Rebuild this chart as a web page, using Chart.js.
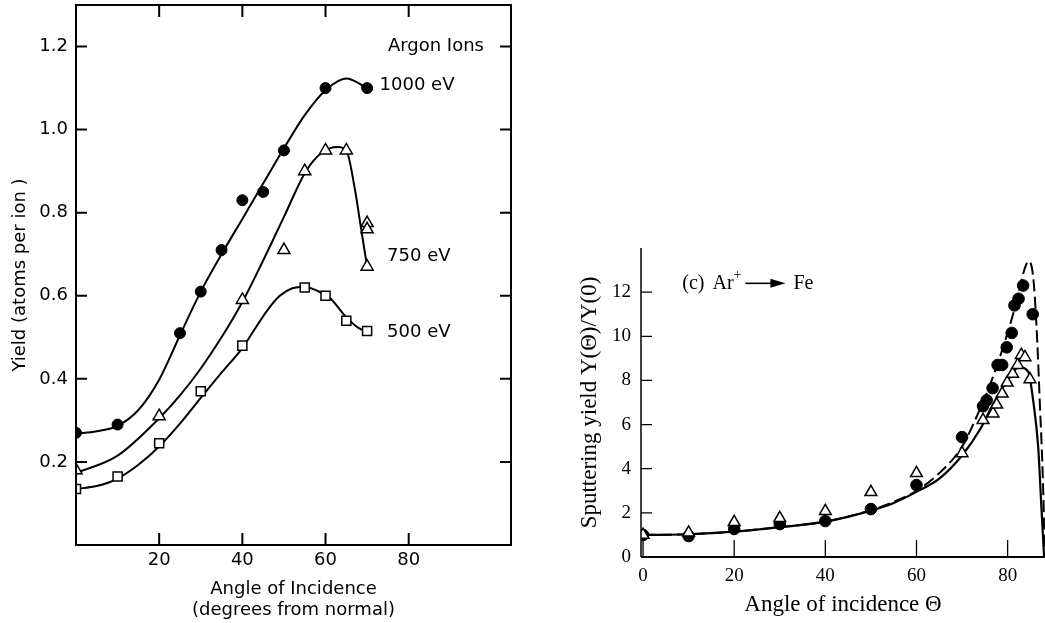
<!DOCTYPE html>
<html>
<head>
<meta charset="utf-8">
<script src="https://cdn.jsdelivr.net/npm/chart.js@4.4.0/dist/chart.umd.min.js"></script>
<style>
  html, body { margin: 0; padding: 0; background: #fff; }
  #wrap { position: relative; width: 1045px; height: 623px; overflow: hidden; }
  #left { position: absolute; left: 0; top: 0; width: 520px; height: 623px; }
  #right { position: absolute; left: 560px; top: 0; width: 485px; height: 623px; }
</style>
</head>
<body>
<div id="wrap">
  <canvas id="left" width="520" height="623"></canvas>
  <canvas id="right" width="485" height="623"></canvas>
</div>
<script>
// ---- left panel: yield vs angle, argon ions ----
const angles1000 = [0, 10, 25, 30, 35, 40, 45, 50, 60, 70];
const yield1000  = [0.27, 0.29, 0.51, 0.61, 0.71, 0.83, 0.85, 0.95, 1.10, 1.10];
const angles750  = [0, 20, 40, 50, 55, 60, 65, 70, 70, 70];
const yield750   = [0.18, 0.31, 0.59, 0.71, 0.90, 0.95, 0.95, 0.775, 0.76, 0.67];
const angles500  = [0, 10, 20, 30, 40, 55, 60, 65, 70];
const yield500   = [0.135, 0.165, 0.245, 0.37, 0.48, 0.62, 0.60, 0.54, 0.515];

// hand drawn fits through the points
const fitAngles1000 = [0, 5, 10, 15, 20, 25, 30, 35, 40, 45, 50, 55, 60, 65, 70];
const fitYield1000  = [0.268, 0.274, 0.287, 0.325, 0.398, 0.505, 0.61, 0.70, 0.785, 0.87, 0.955, 1.035, 1.095, 1.123, 1.10];
const fitAngles750  = [0, 10, 20, 25, 30, 35, 40, 45, 50, 55, 58, 61, 63, 65, 67, 68.5, 70];
const fitYield750   = [0.173, 0.215, 0.305, 0.36, 0.425, 0.50, 0.585, 0.685, 0.79, 0.895, 0.935, 0.955, 0.958, 0.95, 0.86, 0.765, 0.67];
const fitAngles500  = [0, 5, 10, 15, 20, 25, 30, 35, 40, 43, 46, 49, 52, 55, 58, 61, 65, 68, 70];
const fitYield500   = [0.135, 0.142, 0.16, 0.193, 0.237, 0.292, 0.354, 0.415, 0.474, 0.52, 0.565, 0.60, 0.618, 0.622, 0.612, 0.595, 0.548, 0.522, 0.513];

const leftXTicks = [20, 40, 60, 80];
const leftYTicks = [0.2, 0.4, 0.6, 0.8, 1.0, 1.2];

// ---- right panel: normalised sputtering yield, Ar+ -> Fe ----
const anglesCircle = [0, 10, 20, 30, 40, 50, 60, 70, 74.6, 75.4, 76.7, 77.8, 78.8, 79.8, 80.9, 81.5, 82.4, 83.4, 85.5];
const ratioCircle  = [1.0, 0.95, 1.27, 1.49, 1.63, 2.17, 3.26, 5.43, 6.83, 7.1, 7.65, 8.7, 8.7, 9.5, 10.15, 11.4, 11.7, 12.3, 11.0];
const anglesTriangle = [0, 10, 20, 30, 40, 50, 60, 70, 74.6, 76.8, 77.6, 78.8, 79.9, 81.1, 82.2, 83.0, 83.8, 84.9];
const ratioTriangle  = [1.0, 1.1, 1.58, 1.76, 2.08, 2.94, 3.8, 4.7, 6.2, 6.5, 6.9, 7.4, 7.9, 8.3, 8.7, 9.15, 9.05, 8.05];

const fitAnglesSolid = [0, 10, 20, 30, 40, 50, 55, 60, 65, 70, 74, 77, 80, 82.5, 84.5, 85.6, 86.7, 87.4, 88];
const fitRatioSolid  = [1.0, 1.03, 1.15, 1.35, 1.6, 2.1, 2.45, 2.95, 3.55, 4.6, 5.8, 7.0, 8.0, 8.6, 8.4, 7.1, 5.0, 2.3, 0];
const fitAnglesDashed = [0, 10, 20, 30, 40, 50, 55, 60, 65, 70, 73.5, 76.5, 79, 81.6, 83.8, 84.6, 85.6, 86.3, 87.1, 87.9, 88.1];
const fitRatioDashed  = [1.0, 1.03, 1.15, 1.35, 1.6, 2.12, 2.5, 3.0, 3.8, 5.0, 6.5, 8.0, 9.5, 11.3, 13.1, 13.4, 12.7, 10.6, 6.8, 2.3, 0];

const rightXTicks = [0, 20, 40, 60, 80];
const rightYTicks = [0, 2, 4, 6, 8, 10, 12];

function pts(xs, ys) {
    return xs.map(function(x, i) { return { x: x, y: ys[i] }; });
}

// the plot areas are fixed by hand, so drop the label overhang padding
function noPad(s) {
    s.paddingLeft = 0; s.paddingRight = 0; s.paddingTop = 0; s.paddingBottom = 0;
}

const sans = '"DejaVu Sans", sans-serif';
const serif = '"Liberation Serif", "Times New Roman", serif';

// frame, inward ticks and labels for the left panel
const leftInk = {
    id: 'leftInk',
    afterDraw(chart) {
        const ctx = chart.ctx;
        const a = chart.chartArea;
        const sx = chart.scales.x, sy = chart.scales.y;
        ctx.save();
        ctx.strokeStyle = '#000';
        ctx.lineWidth = 2;
        ctx.strokeRect(a.left, a.top, a.right - a.left, a.bottom - a.top);
        ctx.beginPath();
        leftYTicks.forEach(function(v) {
            const py = sy.getPixelForValue(v);
            ctx.moveTo(a.left, py); ctx.lineTo(a.left + 11, py);
            ctx.moveTo(a.right, py); ctx.lineTo(a.right - 11, py);
        });
        leftXTicks.forEach(function(v) {
            const px = sx.getPixelForValue(v);
            ctx.moveTo(px, a.bottom); ctx.lineTo(px, a.bottom - 12);
            ctx.moveTo(px, a.top); ctx.lineTo(px, a.top + 12);
        });
        ctx.stroke();

        ctx.fillStyle = '#000';
        ctx.font = '18px ' + sans;
        ctx.textAlign = 'left';
        ctx.textBaseline = 'middle';
        ctx.fillText('Argon Ions', sx.getPixelForValue(75), sy.getPixelForValue(1.2));
        ctx.fillText('1000 eV', sx.getPixelForValue(73), sy.getPixelForValue(1.106));
        ctx.fillText('750 eV', sx.getPixelForValue(74.8), sy.getPixelForValue(0.694));
        ctx.fillText('500 eV', sx.getPixelForValue(74.8), sy.getPixelForValue(0.511));
        ctx.restore();
    }
};

new Chart(document.getElementById('left'), {
    type: 'scatter',
    data: {
        datasets: [
            { data: pts(angles1000, yield1000), pointStyle: 'circle', pointRadius: 5.5, backgroundColor: '#000', borderColor: '#000', borderWidth: 1 },
            { data: pts(angles750, yield750), pointStyle: 'triangle', pointRadius: 7, backgroundColor: '#fff', borderColor: '#000', borderWidth: 1.5 },
            { data: pts(angles500, yield500), pointStyle: 'rect', pointRadius: 6.4, backgroundColor: '#fff', borderColor: '#000', borderWidth: 1.5 },
            { data: pts(fitAngles1000, fitYield1000), showLine: true, pointRadius: 0, borderColor: '#000', borderWidth: 2, cubicInterpolationMode: 'monotone' },
            { data: pts(fitAngles750, fitYield750), showLine: true, pointRadius: 0, borderColor: '#000', borderWidth: 2, cubicInterpolationMode: 'monotone' },
            { data: pts(fitAngles500, fitYield500), showLine: true, pointRadius: 0, borderColor: '#000', borderWidth: 2, cubicInterpolationMode: 'monotone' }
        ]
    },
    options: {
        responsive: false,
        animation: false,
        events: [],
        layout: { autoPadding: false, padding: { top: 5, right: 9, left: 0, bottom: 0 } },
        plugins: { legend: { display: false }, tooltip: { enabled: false } },
        scales: {
            x: {
                type: 'linear', min: 0, max: 104.6,
                grid: { display: false, drawTicks: false },
                border: { display: false },
                afterBuildTicks: function(s) { s.ticks = leftXTicks.map(function(v) { return { value: v }; }); },
                afterFit: function(s) { s.height = 78; noPad(s); },
                ticks: { padding: 5, color: '#000', font: { family: sans, size: 18 } },
                title: {
                    display: true,
                    text: ['Angle of Incidence', '(degrees from normal)'],
                    color: '#000',
                    font: { family: sans, size: 18, lineHeight: 1.12 },
                    padding: { top: 0, bottom: 3 }
                }
            },
            y: {
                type: 'linear', min: 0, max: 1.3,
                grid: { display: false, drawTicks: false },
                border: { display: false },
                afterBuildTicks: function(s) { s.ticks = leftYTicks.map(function(v) { return { value: v }; }); },
                afterFit: function(s) { s.width = 76; noPad(s); },
                ticks: { padding: 8, color: '#000', font: { family: sans, size: 18 }, callback: function(v) { return v.toFixed(1); } },
                title: {
                    display: true,
                    text: 'Yield (atoms per ion )',
                    color: '#000',
                    font: { family: sans, size: 18 },
                    padding: { top: 10, bottom: 0 }
                }
            }
        }
    },
    plugins: [leftInk]
});

// axes, inward ticks and the "(c) Ar+ -> Fe" note for the right panel
const rightInk = {
    id: 'rightInk',
    afterDraw(chart) {
        const ctx = chart.ctx;
        const a = chart.chartArea;
        const sx = chart.scales.x, sy = chart.scales.y;
        ctx.save();
        ctx.strokeStyle = '#000';
        ctx.lineWidth = 1.5;
        ctx.beginPath();
        ctx.moveTo(a.left, a.top); ctx.lineTo(a.left, a.bottom);
        ctx.stroke();
        ctx.lineWidth = 2;
        ctx.beginPath();
        ctx.moveTo(a.left, a.bottom); ctx.lineTo(a.right, a.bottom);
        ctx.stroke();
        ctx.lineWidth = 1.3;
        ctx.beginPath();
        rightYTicks.forEach(function(v) {
            if (v === 0) return;
            const py = sy.getPixelForValue(v);
            ctx.moveTo(a.left, py); ctx.lineTo(a.left + 11, py);
        });
        rightXTicks.forEach(function(v) {
            const px = sx.getPixelForValue(v);
            ctx.moveTo(px, a.bottom); ctx.lineTo(px, a.bottom - 17);
        });
        ctx.stroke();

        // note
        let x = sx.getPixelForValue(8.6);
        const y = sy.getPixelForValue(12.4);
        ctx.fillStyle = '#000';
        ctx.textAlign = 'left';
        ctx.textBaseline = 'middle';
        ctx.font = '20px ' + serif;
        ctx.fillText('(c)', x, y);
        x += ctx.measureText('(c)').width + 8;
        ctx.fillText('Ar', x, y);
        x += ctx.measureText('Ar').width;
        ctx.font = '14px ' + serif;
        ctx.fillText('+', x, y - 8);
        x += ctx.measureText('+').width + 4;
        ctx.lineWidth = 1.6;
        ctx.beginPath();
        ctx.moveTo(x, y); ctx.lineTo(x + 28, y);
        ctx.stroke();
        ctx.beginPath();
        ctx.moveTo(x + 40, y); ctx.lineTo(x + 25, y - 4.5); ctx.lineTo(x + 25, y + 4.5);
        ctx.closePath();
        ctx.fill();
        ctx.font = '20px ' + serif;
        ctx.fillText('Fe', x + 48, y);
        ctx.restore();
    }
};

new Chart(document.getElementById('right'), {
    type: 'scatter',
    data: {
        datasets: [
            { data: pts(anglesTriangle, ratioTriangle), pointStyle: 'triangle', pointRadius: 6.8, backgroundColor: '#fff', borderColor: '#000', borderWidth: 1.5 },
            { data: pts(anglesCircle, ratioCircle), pointStyle: 'circle', pointRadius: 5.8, backgroundColor: '#000', borderColor: '#000', borderWidth: 1 },
            { data: pts(fitAnglesSolid, fitRatioSolid), showLine: true, pointRadius: 0, borderColor: '#000', borderWidth: 2.2, cubicInterpolationMode: 'monotone' },
            { data: pts(fitAnglesDashed, fitRatioDashed), showLine: true, pointRadius: 0, borderColor: '#000', borderWidth: 2, borderDash: [12, 5], cubicInterpolationMode: 'monotone' }
        ]
    },
    options: {
        responsive: false,
        animation: false,
        events: [],
        layout: { autoPadding: false, padding: { top: 248, right: 0, left: 0, bottom: 0 } },
        plugins: { legend: { display: false }, tooltip: { enabled: false } },
        scales: {
            x: {
                type: 'linear', min: -0.45, max: 88.2,
                grid: { display: false, drawTicks: false },
                border: { display: false },
                afterBuildTicks: function(s) { s.ticks = rightXTicks.map(function(v) { return { value: v }; }); },
                afterFit: function(s) { s.height = 66; noPad(s); },
                ticks: { padding: 8, color: '#000', font: { family: serif, size: 19 } },
                title: {
                    display: true,
                    text: 'Angle of incidence \u0398',
                    color: '#000',
                    font: { family: serif, size: 23 },
                    padding: { top: 0, bottom: 4 }
                }
            },
            y: {
                type: 'linear', min: 0, max: 14,
                grid: { display: false, drawTicks: false },
                border: { display: false },
                afterBuildTicks: function(s) { s.ticks = rightYTicks.map(function(v) { return { value: v }; }); },
                afterFit: function(s) { s.width = 81; noPad(s); },
                ticks: { padding: 10, color: '#000', font: { family: serif, size: 19 } },
                title: {
                    display: true,
                    text: 'Sputtering yield Y(\u0398)/Y(0)',
                    color: '#000',
                    font: { family: serif, size: 23 },
                    padding: { top: 16, bottom: 0 }
                }
            }
        }
    },
    plugins: [rightInk]
});
</script>
</body>
</html>
